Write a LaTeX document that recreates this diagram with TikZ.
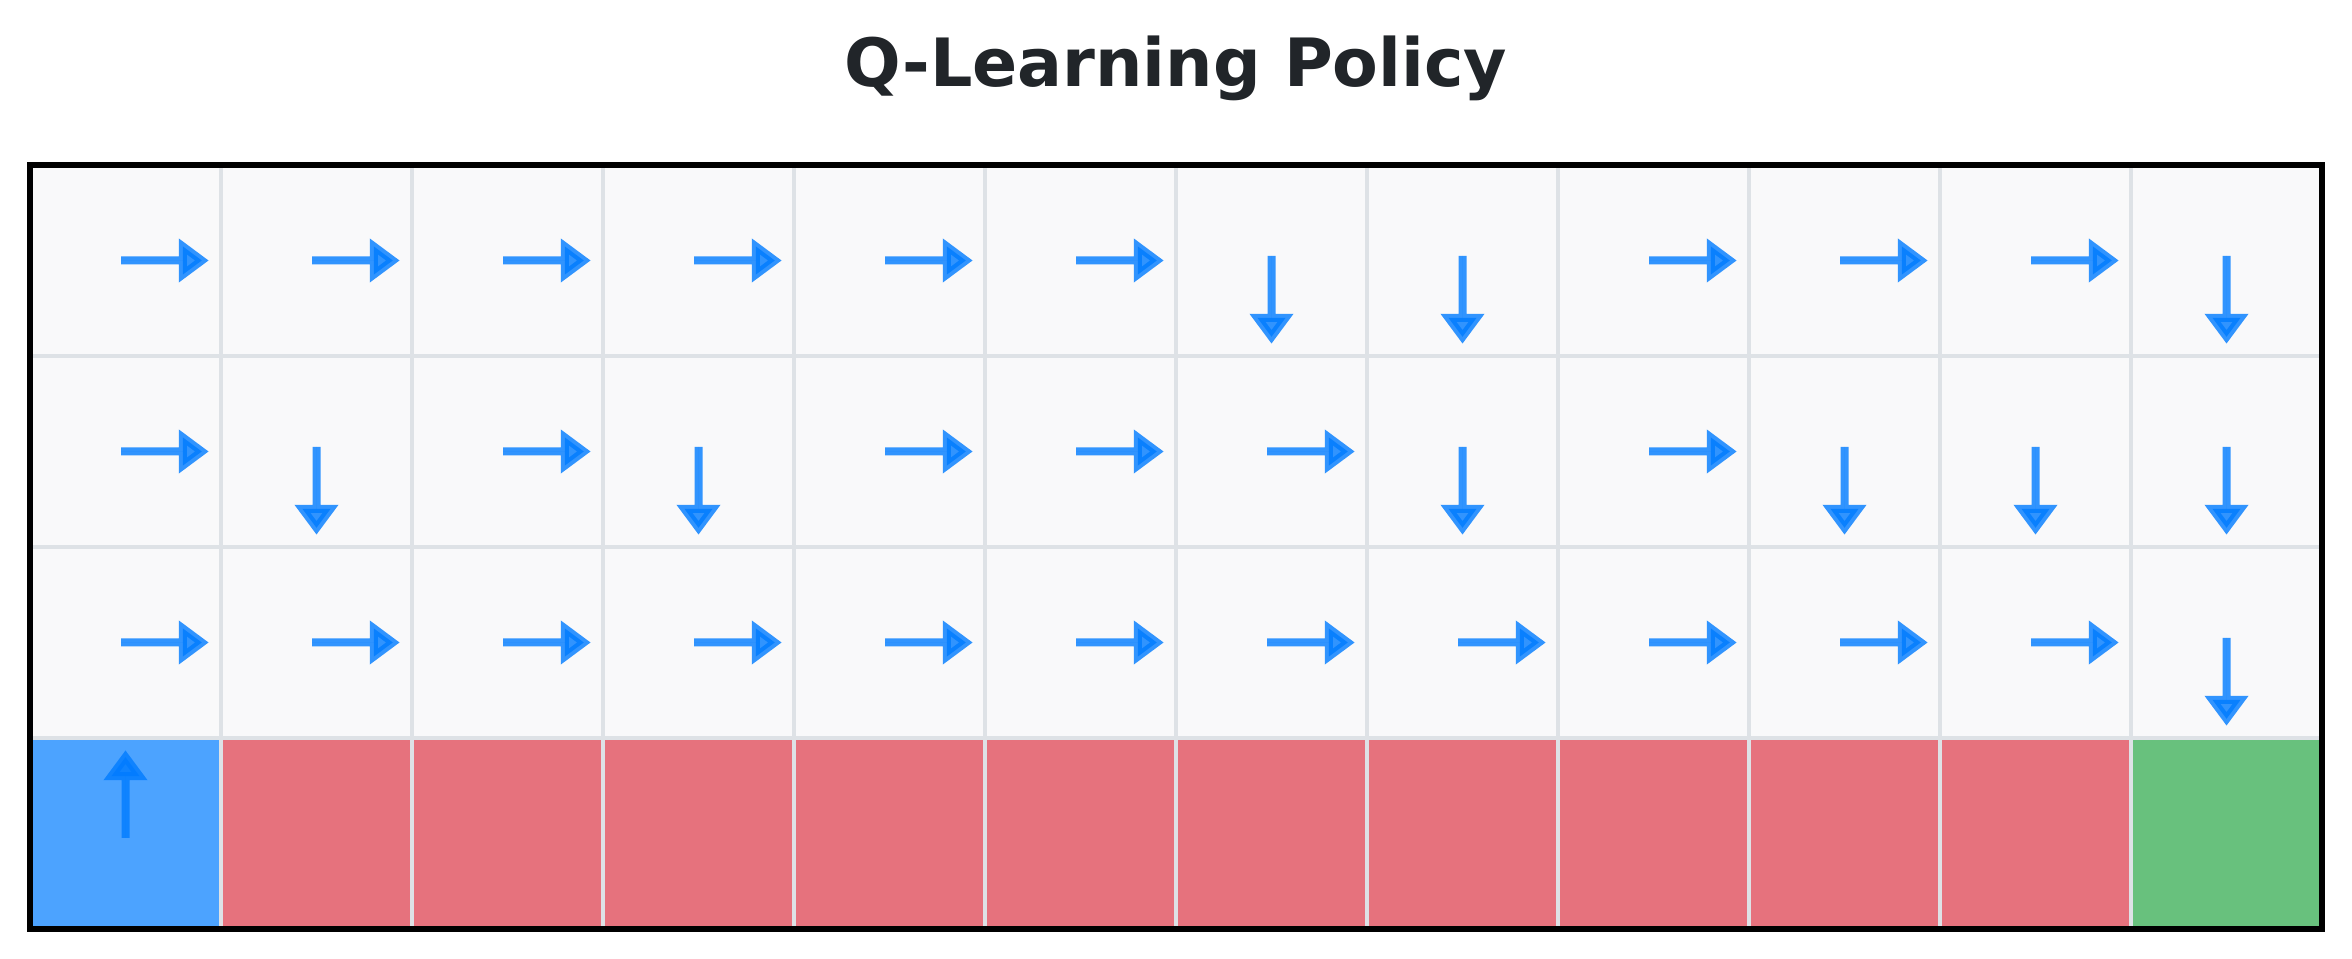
\documentclass[tikz,border=0pt]{standalone}
\usepackage{fontspec}
\setmainfont{DejaVu Sans}
\definecolor{cellbg}{HTML}{F9F9FA}
\definecolor{gridc}{HTML}{DEE2E6}
\definecolor{redc}{HTML}{E6727D}
\definecolor{greenc}{HTML}{68C17D}
\definecolor{startc}{HTML}{4CA3FF}
\definecolor{arrowc}{HTML}{007BFF}
\definecolor{titlec}{HTML}{212529}
\tikzset{
  cell/.style={draw=gridc, line width=1pt, minimum width=47.75pt, minimum height=47.75pt, inner sep=0pt, outer sep=0pt},
  pol/.style={draw=arrowc, fill=arrowc, draw opacity=0.8, fill opacity=0.8, line width=2pt, miter limit=10},
  pics/policy/.style={code={\path[pol] (-4.5,0) -- (57.3,0) (57.3,-14.1) -- (76.3,0) -- (57.3,14.1) -- cycle;}}
}
\begin{document}
\begin{tikzpicture}[x=0.25pt,y=-0.25pt]
\useasboundingbox (0,0) rectangle (2352,959);
\fill[white] (0,0) rectangle (2352,959);
\node[font=\bfseries\fontsize{16.65}{20}\selectfont, text=titlec, anchor=base, inner sep=0pt] (title) at (1176,87) {Q-Learning Policy};
% free cells
\foreach \r in {0,1,2} {
  \foreach \c in {0,...,11} {
    \node[cell, fill=cellbg] (c\r-\c) at ({125.5+191*\c},{260.5+191*\r}) {};
  }
}
% bottom row
\node[cell, fill=startc] (c3-0) at (125.5,833.5) {};
\foreach \c in {1,...,10} {
  \node[cell, fill=redc] (c3-\c) at ({125.5+191*\c},833.5) {};
}
\node[cell, fill=greenc] (c3-11) at ({125.5+191*11},833.5) {};
% policy arrows
\foreach \r/\dirs in {0/{0,0,0,0,0,0,-90,-90,0,0,0,-90},
                      1/{0,-90,0,-90,0,0,0,-90,0,-90,-90,-90},
                      2/{0,0,0,0,0,0,0,0,0,0,0,-90}} {
  \foreach \a [count=\c from 0] in \dirs {
    \pic[rotate=\a] at (c\r-\c.center) {policy};
  }
}
\pic[rotate=90] at (c3-0.center) {policy};
% outer border
\draw[black, line width=1.65pt] (c0-0.north west) rectangle (c3-11.south east);
\end{tikzpicture}
\end{document}
